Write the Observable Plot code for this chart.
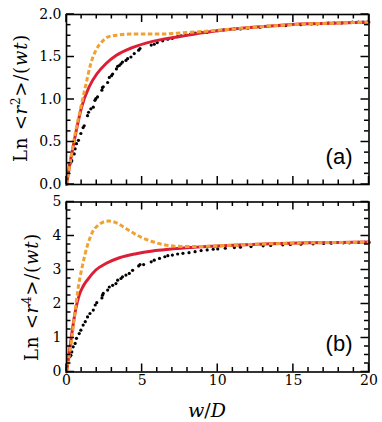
<!DOCTYPE html>
<html>
<head>
<meta charset="utf-8">
<script src="https://cdn.jsdelivr.net/npm/d3@7"></script>
<script src="https://cdn.jsdelivr.net/npm/@observablehq/plot@0.6"></script>
<style>
  html, body { margin: 0; padding: 0; background: #fff; }
  #wrap { position: relative; width: 382px; height: 422px; overflow: hidden; background: #fff; }
  #wrap > svg { position: absolute; left: 0; overflow: visible; }
</style>
</head>
<body>
<div id="wrap"></div>
<script>
// ---------- data ----------
const xMajor = [0, 5, 10, 15, 20];
const xMinor = [1, 2, 3, 4, 6, 7, 8, 9, 11, 12, 13, 14, 16, 17, 18, 19];
const yMajorA = [0, 0.5, 1.0, 1.5, 2.0];
const yMinorA = [0.125, 0.25, 0.375, 0.625, 0.75, 0.875, 1.125, 1.25, 1.375, 1.625, 1.75, 1.875];
const yMajorB = [0, 1, 2, 3, 4, 5];
const yMinorB = [0.25, 0.5, 0.75, 1.25, 1.5, 1.75, 2.25, 2.5, 2.75, 3.25, 3.5, 3.75, 4.25, 4.5, 4.75];

// panel (a): <r^2>
const redAX = [0, 0.1, 0.2, 0.4, 0.7, 1.0, 1.5, 2.0, 2.6, 3.3, 4.2, 5.2, 6.4, 7.5, 9, 11, 13.5, 16, 18, 20];
const redAY = [0, 0.11, 0.22, 0.41, 0.68, 0.91, 1.15, 1.30, 1.42, 1.52, 1.60, 1.66, 1.71, 1.74, 1.785, 1.83, 1.865, 1.89, 1.90, 1.91];
const orgAX = [0, 0.15, 0.3, 0.6, 0.95, 1.3, 1.6, 1.95, 2.4, 2.8, 3.5, 4.2, 5.2, 6.4, 7.3, 8.2, 9, 11, 13.5, 16, 18, 20];
const orgAY = [0, 0.16, 0.32, 0.62, 0.91, 1.19, 1.42, 1.58, 1.69, 1.74, 1.76, 1.77, 1.77, 1.77, 1.78, 1.79, 1.80, 1.83, 1.865, 1.89, 1.90, 1.91];
const dotAX = [0.22, 0.29, 0.35, 0.51, 0.57, 0.66, 0.79, 0.95, 1.1, 1.17, 1.39, 1.46, 1.61, 1.77, 1.88, 1.94, 2.05, 2.34, 2.38, 2.43, 2.72, 2.83, 2.98, 3.05, 3.3, 3.38, 3.49, 3.6, 3.7, 3.93, 4.04, 4.26, 4.48, 4.77, 4.86, 5.6, 5.8, 6.0, 6.36, 6.7, 7.0, 7.35, 7.57, 7.9, 8.2, 8.5, 8.9, 9.3, 9.6, 10.0, 10.4, 11.1, 11.5, 12.0, 12.8, 13.3, 14.0, 14.5, 15.5, 16.2, 16.6, 17.3, 17.7, 18.2, 18.9, 19.3, 19.6, 19.9];
const dotAY = [0.24, 0.26, 0.28, 0.36, 0.42, 0.48, 0.52, 0.60, 0.67, 0.69, 0.81, 0.85, 0.89, 0.91, 0.99, 1.01, 1.03, 1.11, 1.14, 1.15, 1.20, 1.26, 1.28, 1.30, 1.36, 1.39, 1.40, 1.42, 1.44, 1.46, 1.48, 1.50, 1.54, 1.58, 1.60, 1.64, 1.65, 1.67, 1.69, 1.71, 1.72, 1.74, 1.75, 1.76, 1.77, 1.78, 1.79, 1.79, 1.80, 1.81, 1.82, 1.83, 1.83, 1.84, 1.85, 1.86, 1.87, 1.87, 1.88, 1.89, 1.89, 1.90, 1.90, 1.90, 1.91, 1.91, 1.91, 1.91];

// panel (b): <r^4>
const redBX = [0, 0.1, 0.2, 0.4, 0.62, 0.84, 1.1, 1.4, 1.94, 2.6, 3.5, 4.6, 5.7, 6.8, 8.2, 9.5, 11, 13.5, 16, 18, 20];
const redBY = [0, 0.30, 0.62, 1.28, 1.87, 2.26, 2.52, 2.72, 3.00, 3.19, 3.36, 3.48, 3.56, 3.61, 3.66, 3.70, 3.73, 3.77, 3.80, 3.81, 3.82];
const orgBX = [0, 0.15, 0.29, 0.51, 0.73, 1.06, 1.39, 1.72, 2.16, 2.5, 2.83, 3.1, 3.38, 3.93, 4.48, 5.0, 5.7, 6.36, 7.24, 8.2, 9.5, 11, 13.5, 16, 18, 20];
const orgBY = [0, 0.40, 0.79, 1.57, 2.35, 3.14, 3.73, 4.12, 4.34, 4.42, 4.44, 4.42, 4.37, 4.22, 4.07, 3.95, 3.83, 3.75, 3.70, 3.69, 3.70, 3.73, 3.77, 3.80, 3.81, 3.82];
const dotBX = [0.22, 0.29, 0.35, 0.44, 0.57, 0.66, 0.84, 0.95, 1.1, 1.24, 1.39, 1.55, 1.77, 1.9, 2.0, 2.34, 2.38, 2.43, 2.72, 2.83, 3.05, 3.27, 3.38, 3.6, 3.7, 3.93, 4.15, 4.37, 4.77, 4.86, 5.1, 5.6, 5.8, 6.15, 6.5, 6.7, 7.0, 7.35, 7.7, 8.1, 8.5, 8.9, 9.3, 9.7, 10.0, 10.5, 11.1, 11.5, 12.2, 13.0, 13.5, 14.3, 14.8, 15.5, 16.3, 17.0, 17.5, 18.3, 18.7, 19.3, 19.7, 20.0];
const dotBY = [0.45, 0.49, 0.59, 0.74, 0.84, 0.99, 1.13, 1.23, 1.38, 1.48, 1.62, 1.72, 1.82, 1.97, 2.04, 2.18, 2.26, 2.31, 2.41, 2.50, 2.55, 2.60, 2.70, 2.75, 2.80, 2.85, 2.90, 2.99, 3.12, 3.16, 3.16, 3.24, 3.29, 3.34, 3.39, 3.42, 3.44, 3.47, 3.49, 3.51, 3.54, 3.57, 3.59, 3.61, 3.62, 3.64, 3.66, 3.67, 3.69, 3.71, 3.72, 3.74, 3.75, 3.76, 3.77, 3.78, 3.79, 3.80, 3.80, 3.81, 3.81, 3.81];

// ---------- helpers ----------
const RED = "#dc1f36", ORANGE = "#f0a134";
const W = 382, ML = 66, MR = 13.5;
const zip = (xs, ys) => xs.map((x, i) => ({x, y: ys[i]}));

function panel({height, mt, mb, yDomain, yMajor, yMinor, yFmt, red, org, dots, tag, showX}) {
  const marks = [
    Plot.axisY(yMajor, {tickSize: 0, tickPadding: 5, tickFormat: yFmt, label: null}),
    Plot.dot(dots, {x: "x", y: "y", r: 1.6, fill: "black", stroke: null}),
    Plot.line(red, {x: "x", y: "y", stroke: RED, strokeWidth: 3, curve: "monotone-x"}),
    Plot.line(org, {x: "x", y: "y", stroke: ORANGE, strokeWidth: 3, strokeDasharray: "4.5 2.5", strokeLinecap: "butt", curve: "monotone-x"}),
    Plot.text([tag], {frameAnchor: "bottom-right", dx: -16.5, dy: -21, fontSize: 22, fontFamily: "'Liberation Sans', Arial, sans-serif", textAnchor: "end", lineAnchor: "bottom"}),
    Plot.frame({stroke: "black", strokeWidth: 1.6})
  ];
  if (showX) marks.push(Plot.axisX(xMajor, {tickSize: 0, tickPadding: 3, label: null}));
  const svg = Plot.plot({
    width: W, height,
    marginTop: mt, marginBottom: mb, marginLeft: ML, marginRight: MR,
    style: {fontFamily: "'DejaVu Serif', serif", fontSize: "14px", color: "black", background: "transparent", overflow: "visible"},
    x: {domain: [0, 20], axis: null},
    y: {domain: yDomain, axis: null},
    marks
  });
  // inward ticks on all four sides, positioned through the plot's own scales
  const sx = svg.scale("x"), sy = svg.scale("y");
  const [xl, xr] = sx.range, [yb, yt] = sy.range;
  const g = d3.select(svg).append("g").attr("stroke", "black").attr("stroke-width", 1.5);
  const maj = 8, mnr = 4.5;
  const addX = (vals, len) => vals.forEach(v => {
    const px = sx.apply(v);
    g.append("line").attr("x1", px).attr("x2", px).attr("y1", yb).attr("y2", yb - len);
    g.append("line").attr("x1", px).attr("x2", px).attr("y1", yt).attr("y2", yt + len);
  });
  const addY = (vals, len) => vals.forEach(v => {
    const py = sy.apply(v);
    g.append("line").attr("y1", py).attr("y2", py).attr("x1", xl).attr("x2", xl + len);
    g.append("line").attr("y1", py).attr("y2", py).attr("x1", xr).attr("x2", xr - len);
  });
  addX(xMajor, maj); addX(xMinor, mnr); addY(yMajor, maj); addY(yMinor, mnr);
  return svg;
}

function yLabel(svg, x, y, sup) {
  const t = d3.select(svg).append("text")
    .attr("transform", `translate(${x},${y}) rotate(-90)`)
    .attr("text-anchor", "middle")
    .attr("font-family", "'DejaVu Serif', serif")
    .attr("font-size", 18)
    .attr("letter-spacing", "0.8px")
    .attr("fill", "black");
  t.append("tspan").text("Ln <");
  t.append("tspan").attr("font-style", "italic").text("r");
  t.append("tspan").attr("font-size", 12).attr("dy", -7).text(sup);
  t.append("tspan").attr("dy", 7).text(">/(");
  t.append("tspan").attr("font-style", "italic").text("wt");
  t.append("tspan").text(")");
}

const wrap = document.getElementById("wrap");

const topPanel = panel({height: 190, mt: 14, mb: 6, yDomain: [0, 2], yMajor: yMajorA, yMinor: yMinorA,
  yFmt: d3.format(".1f"), red: zip(redAX, redAY), org: zip(orgAX, orgAY), dots: zip(dotAX, dotAY), tag: "(a)", showX: false});
topPanel.style.top = "0px";
yLabel(topPanel, 27, 98, "2");

const botPanel = panel({height: 232, mt: 11.5, mb: 50.5, yDomain: [0, 5], yMajor: yMajorB, yMinor: yMinorB,
  yFmt: d3.format("d"), red: zip(redBX, redBY), org: zip(orgBX, orgBY), dots: zip(dotBX, dotBY), tag: "(b)", showX: true});
botPanel.style.top = "190px";
yLabel(botPanel, 38, 107, "4");
const xlab = d3.select(botPanel).append("text")
  .attr("x", 207).attr("y", 227)
  .attr("text-anchor", "middle")
  .attr("font-family", "'DejaVu Serif', serif")
  .attr("font-size", 19)
  .attr("fill", "black");
xlab.append("tspan").attr("font-style", "italic").text("w");
xlab.append("tspan").text("/");
xlab.append("tspan").attr("font-style", "italic").text("D");

wrap.appendChild(botPanel);
wrap.appendChild(topPanel);
</script>
</body>
</html>
